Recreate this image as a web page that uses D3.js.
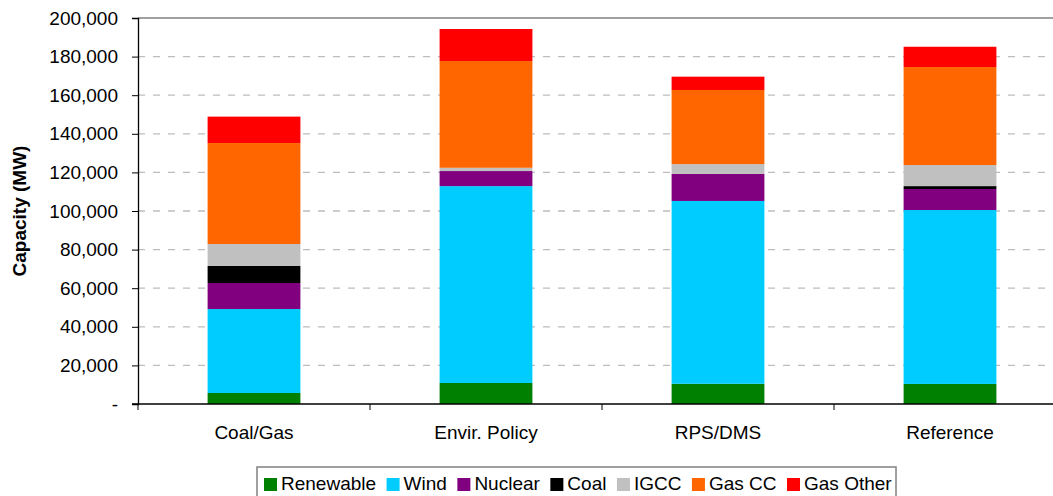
<!DOCTYPE html>
<html>
<head>
<meta charset="utf-8">
<script src="https://cdn.jsdelivr.net/npm/d3@7"></script>
<style>
  html, body { margin: 0; padding: 0; background: #fff; }
  svg { display: block; font-family: Arial, "Liberation Sans", sans-serif; }
</style>
</head>
<body>
<svg id="chart" width="1053" height="496"></svg>
<script>
// Installed capacity by scenario (MW)
const categories = ["Coal/Gas", "Envir. Policy", "RPS/DMS", "Reference"];
const seriesNames = ["Renewable", "Wind", "Nuclear", "Coal", "IGCC", "Gas CC", "Gas Other"];
const renewable = [5700, 10900, 10500, 10400];
const wind      = [43500, 102000, 94700, 90100];
const nuclear   = [13500, 7800, 14000, 10900];
const coal      = [8800, 0, 0, 1500];
const igcc      = [11400, 1700, 5100, 10900];
const gasCC     = [52300, 55300, 38400, 50800];
const gasOther  = [13700, 16600, 6900, 10500];
const yTicks = [0, 20000, 40000, 60000, 80000, 100000, 120000, 140000, 160000, 180000, 200000];
const colors = ["#008000", "#00CCFF", "#800080", "#000000", "#C0C0C0", "#FF6600", "#FF0000"];

const seriesValues = [renewable, wind, nuclear, coal, igcc, gasCC, gasOther];
const rows = categories.map((c, i) => {
  const r = { category: c };
  seriesNames.forEach((s, k) => { r[s] = seriesValues[k][i]; });
  return r;
});

const svg = d3.select("#chart");
const plotLeft = 138, plotRight = 1066, plotTop = 18, plotBottom = 404;
const fontSize = "19px";

const x = d3.scaleBand().domain(categories).range([plotLeft, plotRight])
  .paddingInner(0.6).paddingOuter(0.3);
const xCat = d3.scaleBand().domain(categories).range([plotLeft, plotRight]).padding(0);
const y = d3.scaleLinear().domain([0, 200000]).range([plotBottom, plotTop]);

// dashed horizontal gridlines
svg.append("g")
  .selectAll("line")
  .data(yTicks.filter(t => t > 0 && t < 200000))
  .join("line")
  .attr("x1", plotLeft).attr("x2", plotRight)
  .attr("y1", d => y(d)).attr("y2", d => y(d))
  .attr("stroke", "#bdbdbd").attr("stroke-width", 1.3)
  .attr("stroke-dasharray", "7,8");

// plot area top border
svg.append("line")
  .attr("x1", plotLeft).attr("x2", plotRight)
  .attr("y1", y(200000)).attr("y2", y(200000))
  .attr("stroke", "#808080").attr("stroke-width", 1.3);

// stacked bars
const stack = d3.stack().keys(seriesNames)(rows);
svg.append("g")
  .selectAll("g")
  .data(stack)
  .join("g")
  .attr("fill", (d, i) => colors[i])
  .selectAll("rect")
  .data(d => d)
  .join("rect")
  .attr("x", d => x(d.data.category))
  .attr("width", x.bandwidth())
  .attr("y", d => y(d[1]))
  .attr("height", d => y(d[0]) - y(d[1]));

// y axis
const fmt = d => d === 0 ? "-" : d3.format(",")(d);
const yAxis = svg.append("g")
  .attr("transform", `translate(${plotLeft},0)`)
  .call(d3.axisLeft(y).tickValues(yTicks).tickFormat(fmt).tickSizeOuter(0).tickSize(6).tickPadding(14));
yAxis.select(".domain").attr("stroke", "#000").attr("stroke-width", 1.3);
yAxis.selectAll(".tick line").attr("stroke", "#000");
yAxis.selectAll("text").attr("font-size", fontSize).attr("fill", "#000")
  .attr("font-family", "Arial, 'Liberation Sans', sans-serif");

// x axis with ticks at category boundaries
svg.append("line")
  .attr("x1", plotLeft - 6).attr("x2", plotRight)
  .attr("y1", plotBottom).attr("y2", plotBottom)
  .attr("stroke", "#000").attr("stroke-width", 1.5);
svg.append("g")
  .selectAll("line")
  .data(categories)
  .join("line")
  .attr("x1", d => xCat(d)).attr("x2", d => xCat(d))
  .attr("y1", plotBottom).attr("y2", plotBottom + 6)
  .attr("stroke", "#000");
svg.append("g")
  .selectAll("text")
  .data(categories)
  .join("text")
  .attr("x", d => xCat(d) + xCat.bandwidth() / 2)
  .attr("y", 439)
  .attr("text-anchor", "middle")
  .attr("font-size", fontSize)
  .text(d => d);

// y axis title
svg.append("text")
  .attr("transform", "translate(26,211) rotate(-90)")
  .attr("text-anchor", "middle")
  .attr("font-size", fontSize)
  .attr("font-weight", "bold")
  .text("Capacity (MW)");

// legend
const legend = svg.append("g");
legend.append("rect")
  .attr("x", 257).attr("y", 467).attr("width", 639).attr("height", 40)
  .attr("fill", "#fff").attr("stroke", "#808080").attr("stroke-width", 1.5);
let lx = 264;
seriesNames.forEach((name, i) => {
  legend.append("rect")
    .attr("x", lx).attr("y", 478).attr("width", 13).attr("height", 13)
    .attr("fill", colors[i]);
  const t = legend.append("text")
    .attr("x", lx + 17).attr("y", 490)
    .attr("font-size", fontSize)
    .text(name);
  lx += 17 + t.node().getComputedTextLength() + 10.5;
});
</script>
</body>
</html>
